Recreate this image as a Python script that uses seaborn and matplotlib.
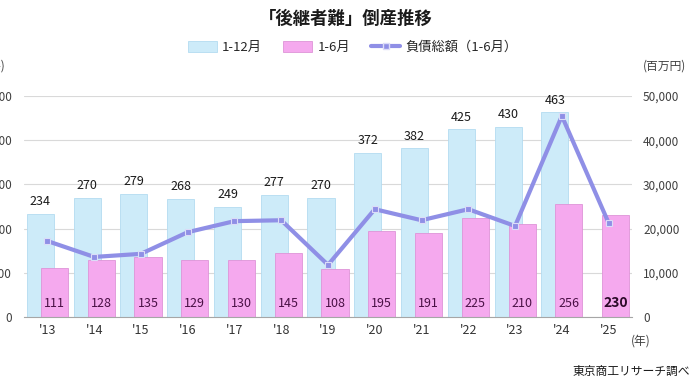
import numpy as np
import matplotlib.pyplot as plt
import seaborn as sns
from matplotlib.patches import Patch
from matplotlib.lines import Line2D
from matplotlib.ticker import FuncFormatter

# data
years = ["'13", "'14", "'15", "'16", "'17", "'18", "'19", "'20", "'21", "'22", "'23", "'24", "'25"]
full_year = [234, 270, 279, 268, 249, 277, 270, 372, 382, 425, 430, 463]
half_year = [111, 128, 135, 129, 130, 145, 108, 195, 191, 225, 210, 256, 230]
debt_half = [17200, 13600, 14300, 19200, 21700, 21900, 11800, 24400, 21900, 24400, 20600, 45500, 21300]

sns.set_style("white")
plt.rcParams['font.family'] = ['Noto Sans CJK JP', 'DejaVu Sans']

blue = "#CDEBF9"
pink = "#F5A9EE"
line_c = "#8F8FE6"
shift = 0.15

fig = plt.figure(figsize=(6.92, 3.89), dpi=100)
ax = fig.add_axes([0.0347, 0.185, 0.8786, 0.568])

# 1-12 bars (shifted left)
sns.barplot(x=years[:12], y=full_year, order=years, color=blue, saturation=1,
            edgecolor="#B3DCF1", linewidth=0.6, width=0.58, errorbar=None, ax=ax)
n_blue = len(ax.patches)
for p in ax.patches:
    p.set_x(p.get_x() - shift)

# 1-6 bars (shifted right)
sns.barplot(x=years, y=half_year, order=years, color=pink, saturation=1,
            edgecolor="#DE94D8", linewidth=0.6, width=0.58, errorbar=None, ax=ax)
for p in ax.patches[n_blue:]:
    p.set_x(p.get_x() + shift)

for i, v in enumerate(full_year):
    ax.annotate(str(v), (i - shift, v), xytext=(0, 4), textcoords='offset points',
                ha='center', va='bottom', fontsize=9, color='#1a1a1a')
for i, v in enumerate(half_year):
    last = i == len(half_year) - 1
    ax.annotate(str(v), (i + shift, 0), xytext=(0, 10), textcoords='offset points',
                ha='center', va='center', fontsize=10 if last else 9,
                fontweight='bold' if last else 'normal',
                color='#2B0A28' if last else '#4A1045')

ax.set_xlim(-0.5, len(years) - 0.5)
ax.set_ylim(0, 500)
ax.set_yticks(range(0, 501, 100))
ax.yaxis.grid(True, color='#D9D9D9', linewidth=0.8)
ax.set_axisbelow(True)
ax.set_xlabel('')
ax.set_ylabel('')
for s in ['top', 'left', 'right']:
    ax.spines[s].set_visible(False)
ax.spines['bottom'].set_color('#A6A6A6')
ax.tick_params(axis='y', length=0, pad=8.6, labelsize=8.5, labelcolor='#404040')
ax.tick_params(axis='x', length=0, pad=5, labelsize=9, labelcolor='#333333')

# debt line on right axis
ax2 = ax.twinx()
sns.lineplot(x=np.arange(len(years)), y=debt_half, color=line_c, linewidth=3,
             marker='s', markersize=5, markerfacecolor=line_c,
             markeredgecolor='#DCDCF8', markeredgewidth=0.8, ax=ax2)
ax2.set_ylim(0, 50000)
ax2.set_yticks(range(0, 50001, 10000))
ax2.yaxis.set_major_formatter(FuncFormatter(lambda v, p: f"{int(v):,}"))
ax2.set_ylabel('')
for s in ax2.spines.values():
    s.set_visible(False)
ax2.tick_params(axis='y', length=0, pad=8, labelsize=8.5, labelcolor='#404040')
ax2.set_xlim(-0.5, len(years) - 0.5)

fig.text(0.5, 0.952, "「後継者難」倒産推移", ha='center', va='center',
         fontsize=12.5, fontweight='bold', color='#1a1a1a')

handles = [
    Patch(facecolor=blue, edgecolor="#B3DCF1", linewidth=0.6),
    Patch(facecolor=pink, edgecolor="#DE94D8", linewidth=0.6),
    Line2D([0], [0], color=line_c, linewidth=3, marker='s', markersize=5,
           markerfacecolor=line_c, markeredgecolor='#DCDCF8'),
]
fig.legend(handles, ["1-12月", "1-6月", "負債総額（1-6月）"], loc='center',
           bbox_to_anchor=(0.51, 0.879), ncol=3, frameon=False, fontsize=9.5,
           handlelength=2.2, handleheight=0.9, columnspacing=1.6, handletextpad=0.4)

fig.text(0.008, 0.830, "(件)", ha='right', va='center', fontsize=8.5, color='#404040')
fig.text(0.96, 0.830, "(百万円)", ha='center', va='center', fontsize=8.5, color='#404040')
fig.text(0.926, 0.123, "(年)", ha='center', va='center', fontsize=8.5, color='#404040')
fig.text(0.997, 0.046, "東京商工リサーチ調べ", ha='right', va='center', fontsize=8.5,
         color='#1a1a1a')

fig.savefig("out.png", dpi=100)
